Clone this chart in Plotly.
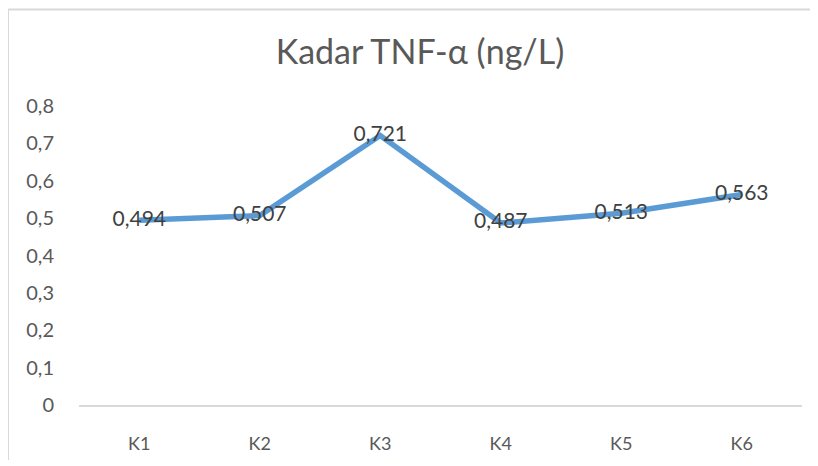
import plotly.graph_objects as go

categories = ["K1", "K2", "K3", "K4", "K5", "K6"]
values = [0.494, 0.507, 0.721, 0.487, 0.513, 0.563]
labels = ["0,494", "0,507", "0,721", "0,487", "0,513", "0,563"]
y_ticks = [0, 0.1, 0.2, 0.3, 0.4, 0.5, 0.6, 0.7, 0.8]
y_ticktext = ["0", "0,1", "0,2", "0,3", "0,4", "0,5", "0,6", "0,7", "0,8"]

# the page places the figure 8px in from the top-left corner
W, H = 810, 458
L, R, T, B = 71, 16, 98, 56
pw = W - L - R
ph = H - T - B

fig = go.Figure()
fig.add_trace(go.Scatter(
    x=categories, y=values, mode="lines+text",
    line=dict(color="#5B9BD5", width=5.5),
    text=labels, textposition="middle center",
    textfont=dict(family="Lato", size=21, color="#404040"),
    cliponaxis=False, showlegend=False,
))

fig.update_layout(
    width=W, height=H,
    margin=dict(l=L, r=R, t=T, b=B),
    paper_bgcolor="white", plot_bgcolor="white",
    separators=",.",
    title=dict(text="Kadar TNF-α (ng/L)", x=(420 - 8) / W, xanchor="center",
               y=1 - (52 - 8) / H, yanchor="middle",
               font=dict(family="Lato", size=34, color="#595959")),
    xaxis=dict(range=[-0.5, 5.5], showgrid=False, showline=True,
               linecolor="#D9D9D9", linewidth=1.5, ticks="",
               tickfont=dict(family="Lato", size=18, color="#595959"),
               ticklabelstandoff=22, zeroline=False, fixedrange=True),
    yaxis=dict(range=[0, 0.8], tickvals=y_ticks, ticktext=y_ticktext,
               showgrid=False, showline=False, zeroline=False, ticks="",
               tickfont=dict(family="Lato", size=20, color="#595959"),
               ticklabelstandoff=24, fixedrange=True),
    shapes=[
        dict(type="line", xref="paper", yref="paper",
             x0=(0 - L) / pw, x1=(W - L) / pw,
             y0=(H - B) / ph, y1=(H - B) / ph,
             line=dict(color="#D9D9D9", width=2)),
        dict(type="line", xref="paper", yref="paper",
             x0=(0 - L) / pw, x1=(0 - L) / pw,
             y0=(H - B) / ph, y1=-B / ph,
             line=dict(color="#D9D9D9", width=2)),
    ],
)

fig.write_html("out.html")
